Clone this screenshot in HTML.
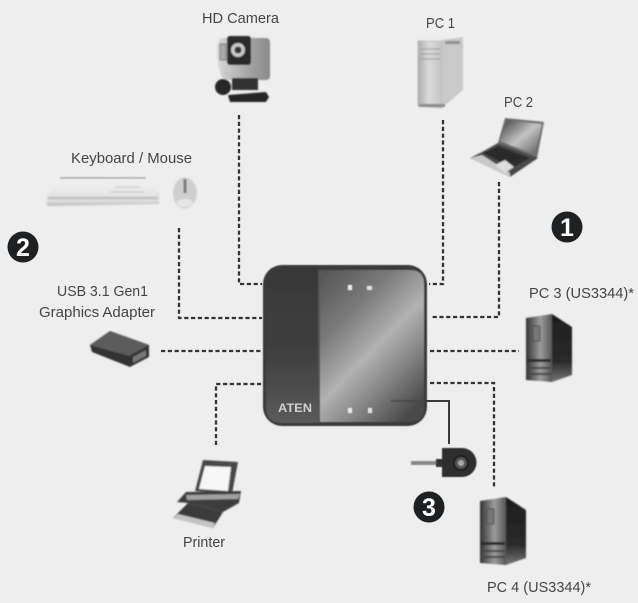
<!DOCTYPE html>
<html><head><meta charset="utf-8"><style>
html,body{margin:0;padding:0;background:#eeeeee;width:638px;height:603px;overflow:hidden}
svg{display:block}
text{font-family:"Liberation Sans",sans-serif;font-size:15px;fill:#454545}
.d{fill:none;stroke:#333;stroke-width:2.3;stroke-dasharray:4.2 2.6}
</style></head><body>
<svg width="638" height="603" viewBox="0 0 638 603" xmlns="http://www.w3.org/2000/svg">
<defs>
<filter id="b" x="-20%" y="-20%" width="140%" height="140%"><feGaussianBlur stdDeviation="0.9"/></filter>
<filter id="b2" x="-20%" y="-20%" width="140%" height="140%"><feGaussianBlur stdDeviation="0.5"/></filter>
<filter id="t" x="-5%" y="-20%" width="110%" height="140%"><feGaussianBlur stdDeviation="0.3"/></filter>
<linearGradient id="panel" x1="0.1" y1="0" x2="0.8" y2="1">
<stop offset="0" stop-color="#585858"/><stop offset="0.28" stop-color="#7a7a7a"/><stop offset="0.55" stop-color="#b2b2b2"/><stop offset="0.75" stop-color="#858585"/><stop offset="1" stop-color="#484848"/></linearGradient>
<linearGradient id="left" x1="0" y1="0" x2="0" y2="1"><stop offset="0" stop-color="#383838"/><stop offset="0.55" stop-color="#3f3f3f"/><stop offset="1" stop-color="#5b5b5b"/></linearGradient>
<linearGradient id="pc" x1="0" y1="0" x2="1" y2="0"><stop offset="0" stop-color="#333"/><stop offset="0.55" stop-color="#9c9c9c"/><stop offset="1" stop-color="#555"/></linearGradient>
<linearGradient id="pcs" x1="0" y1="0" x2="0" y2="1"><stop offset="0" stop-color="#1d1d1d"/><stop offset="0.7" stop-color="#2a2a2a"/><stop offset="1" stop-color="#777"/></linearGradient>
<linearGradient id="tw" x1="0" y1="0" x2="1" y2="0"><stop offset="0" stop-color="#aeaeae"/><stop offset="0.45" stop-color="#dadada"/><stop offset="1" stop-color="#c4c4c4"/></linearGradient>
<linearGradient id="cam" x1="0" y1="0" x2="1" y2="0"><stop offset="0" stop-color="#d8d8d8"/><stop offset="0.6" stop-color="#a5a5a5"/><stop offset="1" stop-color="#8a8a8a"/></linearGradient>
<linearGradient id="scr" x1="0" y1="0" x2="1" y2="1"><stop offset="0" stop-color="#3c3c3c"/><stop offset="0.5" stop-color="#c4c4c4"/><stop offset="1" stop-color="#555"/></linearGradient>
<linearGradient id="kb" x1="0" y1="0" x2="0" y2="1"><stop offset="0" stop-color="#f2f2f2"/><stop offset="0.8" stop-color="#e2e2e2"/><stop offset="1" stop-color="#bdbdbd"/></linearGradient>
<g id="tower">
<polygon points="526,318 552,314 552,382 526,380" fill="url(#pc)"/>
<polygon points="552,314 572,327 572,375 552,382" fill="url(#pcs)"/>
<rect x="533" y="326" width="7" height="15" fill="#777" stroke="#444" stroke-width="0.8"/>
<rect x="527" y="359" width="24" height="3" fill="#2a2a2a"/>
<rect x="527" y="367" width="24" height="2" fill="#444"/>
<rect x="527" y="373" width="24" height="2" fill="#444"/>
</g>
</defs>
<rect width="638" height="603" fill="#eeeeee"/>

<!-- connectors -->
<g class="lines">
<path class="d" d="M239 115V284H262"/>
<path class="d" d="M179 228V318H262"/>
<path class="d" d="M161 351H262"/>
<path class="d" d="M216 445V384H262"/>
<path class="d" d="M443 120V284H429"/>
<path class="d" d="M499 182V317H430"/>
<path class="d" d="M430 351H519"/>
<path class="d" d="M430 383H494V489"/>
</g>
<path d="M391 401H449V444" fill="none" stroke="#3a3a3a" stroke-width="2"/>

<!-- device -->
<g filter="url(#b2)">
<rect x="263" y="265" width="164" height="161" rx="19" fill="#3b3b3b"/>
<path d="M319 270H410Q424 270 424 284V408Q424 422 410 422H319Z" fill="url(#panel)"/>
<path d="M282 268H319V423H282Q266 423 266 407V284Q266 268 282 268Z" fill="url(#left)"/>
<rect x="318" y="270" width="2" height="152" fill="#555"/>
<rect x="348" y="285" width="4" height="5" fill="#e8e8e8"/><rect x="367" y="286" width="5" height="4" fill="#e0e0e0"/>
<rect x="348" y="408" width="4" height="5" fill="#e8e8e8"/><rect x="368" y="408" width="4" height="5" fill="#e0e0e0"/>
<path d="M391 401H425" stroke="#444" stroke-width="1.5"/>
</g>
<text x="278" y="412" style="font-size:12px;font-weight:bold;fill:#d0d0d0" textLength="34" lengthAdjust="spacingAndGlyphs" filter="url(#t)">ATEN</text>

<!-- knob -->
<g filter="url(#b2)">
<rect x="411" y="461" width="27" height="4" fill="#8a8a8a"/>
<rect x="436" y="459" width="7" height="8" fill="#333"/>
<path d="M442 448H462A14.500 14.500 0 0 1 462 477H442Z" fill="#2f2f2f"/>
<circle cx="461" cy="463" r="7" fill="#555" stroke="#1a1a1a" stroke-width="2"/>
<circle cx="461" cy="463" r="3" fill="#aaa"/>
</g>

<!-- camera -->
<g filter="url(#b)">
<path d="M222 38H266Q270 38 270 43V76Q270 80 266 80H224Q217 70 217 50Q217 40 222 38Z" fill="url(#cam)"/>
<rect x="220" y="44" width="6" height="16" fill="#aaa" stroke="#777"/>
<rect x="227" y="36" width="24" height="29" rx="3" fill="#2a2a2a"/>
<circle cx="238" cy="50" r="7" fill="#c8c8c8"/><circle cx="238" cy="50" r="3.500" fill="#333"/>
<rect x="232" y="78" width="26" height="12" fill="#333"/>
<circle cx="223" cy="87" r="8" fill="#262626"/>
<polygon points="228,95 266,92 269,97 266,102 230,102" fill="#262626"/>
</g>

<!-- PC1 -->
<g filter="url(#b)">
<polygon points="418,41 442,41 442,108 418,106" fill="url(#tw)" stroke="#aaa" stroke-width="0.6"/>
<polygon points="442,40 463,37 463,90 442,108" fill="#c9c9c9"/>
<rect x="445" y="41" width="15" height="3" fill="#8f8f8f"/>
<path d="M420 49H440M420 54H440M420 59H440" stroke="#999" stroke-width="1"/>
<rect x="419" y="104" width="26" height="3" fill="#8a8a8a"/>
</g>

<!-- laptop -->
<g filter="url(#b)">
<polygon points="505,118 544,122 537,158 498,143" fill="#6b6b6b"/>
<polygon points="507,120 542,124 535,155 500,141" fill="url(#scr)"/>
<polygon points="482,152 498,143 538,158 510,177 470,158" fill="#4a4a4a"/>
<polygon points="483,153 498,146 530,158 512,168" fill="#2c2c2c"/>
<polygon points="470,158 482,155 510,173 510,177" fill="#c9c9c9"/>
<polygon points="495,165 505,160 514,167 505,173" fill="#ddd"/>
</g>

<!-- keyboard + mouse -->
<g filter="url(#b)">
<polygon points="60,178 146,177 160,195 159,204 47,206 46,197" fill="url(#kb)"/>
<path d="M60 178H146" stroke="#8f8f8f" stroke-width="1.2"/>
<path d="M48 198H158" stroke="#c4c4c4" stroke-width="3"/>
<path d="M115 187H140M110 192H145" stroke="#cfcfcf" stroke-width="1.500"/>
<ellipse cx="185" cy="193" rx="12" ry="15.500" fill="#cfcfcf"/>
<rect x="183.500" y="179" width="3" height="14" fill="#777"/>
<ellipse cx="185" cy="203" rx="8" ry="4" fill="#e6e6e6"/>
</g>

<!-- adapter -->
<g filter="url(#b)">
<polygon points="90,345 110,331 149,345 149,357 130,367 92,352" fill="#333"/>
<polygon points="90,345 110,331 149,345 129,356" fill="#5c5c5c"/>
<polygon points="133,357 146,350 146,356 133,363" fill="#777"/>
</g>

<!-- towers -->
<g filter="url(#b)"><use href="#tower"/></g>
<g filter="url(#b)"><use href="#tower" transform="translate(-46 183)"/></g>

<!-- printer -->
<g filter="url(#b)">
<polygon points="203,460 238,462 232,494 195,491" fill="#4a4a4a"/>
<polygon points="205,466 231,467 228,491 199,489" fill="#f7f7f7"/>
<polygon points="177,502 186,492 241,491 239,503 223,512 188,503" fill="#3c3c3c"/>
<polygon points="186,495 240,494 238,499 187,500" fill="#a0a0a0"/>
<polygon points="173,518 188,503 223,512 213,528" fill="#3a3a3a"/>
<polygon points="173,518 178,514 215,523 213,528" fill="#c4c4c4"/>
</g>

<!-- badges -->
<g>
<circle cx="567" cy="227" r="15.500" fill="#1f2021"/>
<circle cx="23" cy="247" r="15.500" fill="#1f2021"/>
<circle cx="429" cy="507" r="15.500" fill="#1f2021"/>
<text x="567" y="236" text-anchor="middle" style="font-size:25px;font-weight:bold;fill:#fff">1</text>
<text x="23" y="256" text-anchor="middle" style="font-size:25px;font-weight:bold;fill:#fff">2</text>
<text x="429" y="516" text-anchor="middle" style="font-size:25px;font-weight:bold;fill:#fff">3</text>
</g>

<!-- labels -->
<g filter="url(#t)">
<text x="202" y="23" textLength="77" lengthAdjust="spacingAndGlyphs">HD Camera</text>
<text x="426" y="28" textLength="29" lengthAdjust="spacingAndGlyphs">PC 1</text>
<text x="504" y="107" textLength="29" lengthAdjust="spacingAndGlyphs">PC 2</text>
<text x="71" y="163" textLength="121" lengthAdjust="spacingAndGlyphs">Keyboard / Mouse</text>
<text x="57" y="296" textLength="91" lengthAdjust="spacingAndGlyphs">USB 3.1 Gen1</text>
<text x="39" y="317" textLength="116" lengthAdjust="spacingAndGlyphs">Graphics Adapter</text>
<text x="529" y="298" textLength="105" lengthAdjust="spacingAndGlyphs">PC 3 (US3344)*</text>
<text x="183" y="547" textLength="42" lengthAdjust="spacingAndGlyphs">Printer</text>
<text x="487" y="592" textLength="104" lengthAdjust="spacingAndGlyphs">PC 4 (US3344)*</text>
</g>
</svg>
</body></html>
